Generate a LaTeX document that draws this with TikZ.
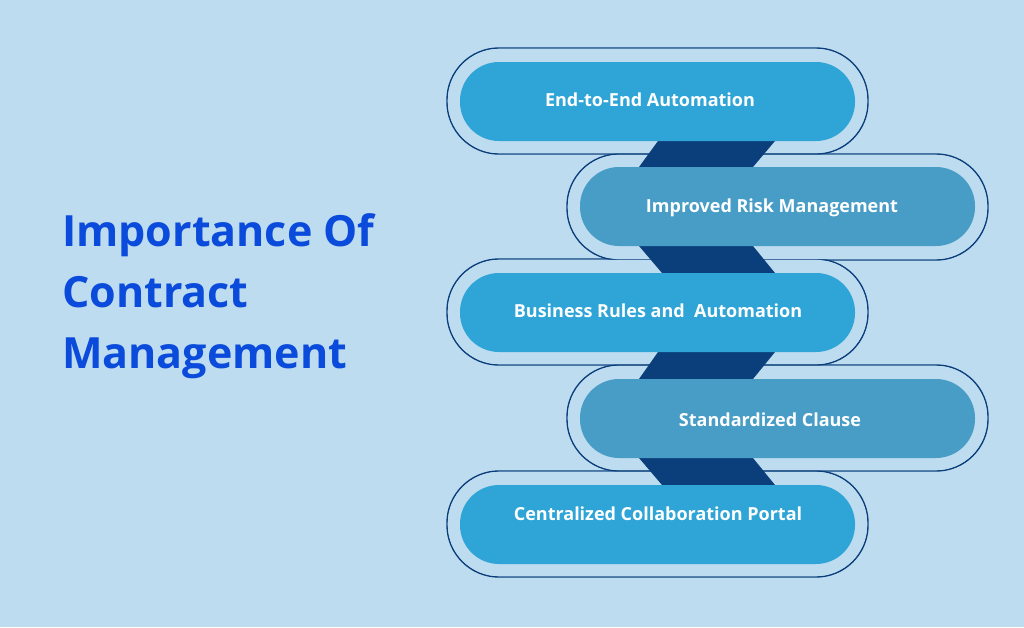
\documentclass[tikz,border=0pt]{standalone}
\usepackage{fontspec}
\setmainfont{Open Sans}
\definecolor{bg}{HTML}{BEDCF0}
\definecolor{pA}{HTML}{2EA5D6}
\definecolor{pB}{HTML}{489DC6}
\definecolor{navy}{HTML}{0B3F7C}
\definecolor{ttl}{HTML}{0A4BDB}
\begin{document}
\begin{tikzpicture}[x=1pt,y=-1pt,
  outer/.style={rounded corners=52pt},
  pilltext/.style={text=white,font=\bfseries\fontsize{18}{20}\selectfont}]
\fill[bg] (0,0) rectangle (1024,627);
\useasboundingbox (0,0) rectangle (1024,627);
% outlines
\foreach \xa/\ya in {447/48,567/154,447/259,567/365,447/471}{
  \draw[navy,line width=1.4pt,outer] (\xa,\ya) rectangle ++(421,106);}
\foreach \xa/\ya in {447/48,567/154,447/259,567/365,447/471}{
  \fill[bg,outer] (\xa+0.8,\ya+0.8) rectangle ++(419.4,104.4);}
% connectors
\fill[navy] (658,141) -- (775,141) -- (753,167) -- (639,167) -- cycle;
\fill[navy] (639,246) -- (753,246) -- (775,273) -- (662,273) -- cycle;
\fill[navy] (658,352) -- (775,352) -- (753,379) -- (639,379) -- cycle;
\fill[navy] (639,458) -- (753,458) -- (775,485) -- (662,485) -- cycle;
% pills
\fill[pA,rounded corners=39pt] (460,62) rectangle (855,141);
\fill[pB,rounded corners=39pt] (580,167) rectangle (975,246);
\fill[pA,rounded corners=39pt] (460,273) rectangle (855,352);
\fill[pB,rounded corners=39pt] (580,379) rectangle (975,458);
\fill[pA,rounded corners=39pt] (460,485) rectangle (855,564);
\node[pilltext] (t1) at (650,100) {End-to-End Automation};
\node[pilltext] (t2) at (772,208) {Improved Risk Management};
\node[pilltext] (t3) at (658,311) {Business Rules and\ \ Automation};
\node[pilltext] (t4) at (770,420) {Standardized Clause};
\node[pilltext] (t5) at (658,514) {Centralized Collaboration Portal};
\node[anchor=north west,align=left,text=ttl,inner sep=0pt,
  font=\bfseries\fontsize{43}{61}\selectfont] (title) at (62,213)
  {Importance Of\\Contract\\Management};
\end{tikzpicture}
\end{document}
